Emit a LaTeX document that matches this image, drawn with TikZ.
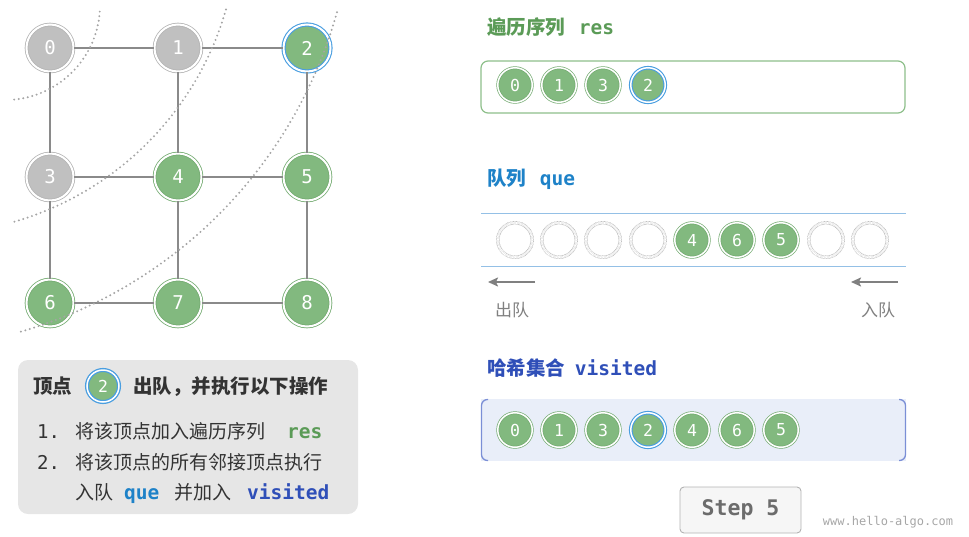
\documentclass[tikz,border=0pt]{standalone}
\usepackage{fontspec}
\setmainfont{Noto Sans CJK SC}
\setmonofont{DejaVu Sans Mono}
\newfontfamily\numf{DejaVu Sans Mono}
\usetikzlibrary{arrows.meta}
\definecolor{vgreen}{HTML}{82B97F}
\definecolor{gring}{HTML}{74AB71}
\definecolor{vgray}{HTML}{C0C0C0}
\definecolor{grayring}{HTML}{B4B4B4}
\definecolor{bring}{HTML}{4A9EE0}
\definecolor{edgecol}{HTML}{8A8A8A}
\definecolor{arccol}{HTML}{A5A5A5}
\definecolor{boxgray}{HTML}{E6E6E6}
\definecolor{txt}{HTML}{333333}
\definecolor{resgreen}{HTML}{5B9B57}
\definecolor{queblue}{HTML}{1E82C8}
\definecolor{visblue}{HTML}{2F4FB8}
\definecolor{resborder}{HTML}{8DBF8A}
\definecolor{qline}{HTML}{94C0E6}
\definecolor{visfill}{HTML}{E9EEF9}
\definecolor{visbr}{HTML}{7B8FD6}
\definecolor{lblgray}{HTML}{808080}
\begin{document}
\begin{tikzpicture}[x=1pt,y=-1pt,
  gnode/.style={circle, inner sep=0pt, minimum size=47pt, fill=vgreen, draw=gring,
    double=white, double distance=2pt, line width=0.8pt, text=white,
    font=\numf\fontsize{19}{19}\selectfont},
  ggray/.style={gnode, fill=vgray, draw=grayring},
  gblue/.style={gnode, draw=bring, line width=1.1pt},
  snode/.style={circle, inner sep=0pt, minimum size=34.5pt, fill=vgreen, draw=gring,
    double=white, double distance=1.5pt, line width=0.7pt, text=white,
    font=\numf\fontsize{16.5}{16.5}\selectfont},
  sblue/.style={snode, draw=bring, line width=1.1pt},
  enode/.style={circle, inner sep=0pt, minimum size=34.5pt, fill=white, draw=gray!55,
    dash pattern=on 0.8pt off 0.6pt, double=white, double distance=2.2pt, line width=0.6pt},
  edge/.style={draw=edgecol, line width=2.4pt},
  layer/.style={draw=arccol, line width=2.2pt, dash pattern=on 0pt off 4.6pt, line cap=round},
  cjk/.style={font=\fontsize{19}{23}\selectfont, text=txt, inner sep=0pt, anchor=base west},
  cjkb/.style={font=\bfseries\fontsize{19.5}{23}\selectfont, text=txt, inner sep=0pt, anchor=base west},
  mono/.style={font=\ttfamily\fontsize{19}{23}\selectfont, text=txt, inner sep=0pt, anchor=base west},
  monob/.style={font=\ttfamily\bfseries\fontsize{19.5}{23}\selectfont, inner sep=0pt, anchor=base west},
  qarrow/.style={draw=lblgray, line width=1.8pt, -{Stealth[length=10pt,width=9pt,inset=2pt]}}
]
\useasboundingbox (0,0) rectangle (969,536);

% ---------- graph ----------
\node[ggray] (n0) at (50,48) {0};
\node[ggray] (n1) at (178,48) {1};
\node[gblue] (n2) at (307,48) {2};
\node[ggray] (n3) at (50,177) {3};
\node[gnode] (n4) at (178,177) {4};
\node[gnode] (n5) at (307,177) {5};
\node[gnode] (n6) at (50,303) {6};
\node[gnode] (n7) at (178,303) {7};
\node[gnode] (n8) at (307,303) {8};
\draw[edge] (n0) -- (n1);
\draw[edge] (n1) -- (n2);
\draw[edge] (n3) -- (n4);
\draw[edge] (n4) -- (n5);
\draw[edge] (n6) -- (n7);
\draw[edge] (n7) -- (n8);
\draw[edge] (n0) -- (n3);
\draw[edge] (n3) -- (n6);
\draw[edge] (n1) -- (n4);
\draw[edge] (n4) -- (n7);
\draw[edge] (n2) -- (n5);
\draw[edge] (n5) -- (n8);
% layer boundaries
\draw[layer] (5,5) ++(4:95) arc[start angle=4, end angle=86, radius=95];
\draw[layer] (-72,-76) ++(16:310) arc[start angle=16, end angle=74, radius=310];
\draw[layer] (-108,-112) ++(15.6:462) arc[start angle=15.6, end angle=74.3, radius=462];

% ---------- left info box ----------
\fill[boxgray, rounded corners=10pt] (18,360) rectangle (358,514);
\node[cjkb] (h1) at (33,393) {顶点};
\node[sblue, minimum size=32pt, line width=1.3pt] (hc) at (103,386) {2};
\node[cjkb] (h2) at (133,393) {出队，并执行以下操作};
\node[mono] (l1n) at (37,438) {1.};
\node[cjk] (l1t) at (75,438) {将该顶点加入遍历序列};
\node[monob, text=resgreen] (l1r) at (287,438) {res};
\node[mono] (l2n) at (37,469) {2.};
\node[cjk] (l2t) at (75,469) {将该顶点的所有邻接顶点执行};
\node[cjk] (l3a) at (75,499) {入队};
\node[monob, text=queblue] (l3b) at (124,499) {que};
\node[cjk] (l3c) at (174,499) {并加入};
\node[monob, text=visblue] (l3d) at (247,499) {visited};

% ---------- res ----------
\node[font=\bfseries\fontsize{19.5}{23}\selectfont, text=resgreen, anchor=base west, inner sep=0pt] (tres) at (487,34) {遍历序列\hspace{0.7em}{\ttfamily res}};
\draw[resborder, line width=1.2pt, rounded corners=7pt] (481,61) rectangle (905,113);
\node[snode] (r0) at (515,85) {0};
\node[snode] (r1) at (559,85) {1};
\node[snode] (r2) at (603,85) {3};
\node[sblue] (r3) at (648,85) {2};

% ---------- queue ----------
\node[font=\bfseries\fontsize{19.5}{23}\selectfont, text=queblue, anchor=base west, inner sep=0pt] (tque) at (487,185) {队列\hspace{0.7em}{\ttfamily que}};
\draw[qline, line width=1.1pt] (481,213.5) -- (906,213.5);
\draw[qline, line width=1.1pt] (481,266.5) -- (906,266.5);
\node[enode] (q0) at (515,240) {};
\node[enode] (q1) at (559,240) {};
\node[enode] (q2) at (603,240) {};
\node[enode] (q3) at (648,240) {};
\node[snode] (q4) at (692,240) {4};
\node[snode] (q5) at (737,240) {6};
\node[snode] (q6) at (781,240) {5};
\node[enode] (q7) at (826,240) {};
\node[enode] (q8) at (870,240) {};
\coordinate (a1s) at (535,282);
\coordinate (a1e) at (488,282);
\coordinate (a2s) at (898,282);
\coordinate (a2e) at (851,282);
\draw[qarrow] (a1s) -- (a1e);
\draw[qarrow] (a2s) -- (a2e);
\node[font=\fontsize{17}{20}\selectfont, text=lblgray, inner sep=0pt] (lout) at (512,310) {出队};
\node[font=\fontsize{17}{20}\selectfont, text=lblgray, inner sep=0pt] (lin) at (878,310) {入队};

% ---------- visited ----------
\node[font=\bfseries\fontsize{19.5}{23}\selectfont, text=visblue, anchor=base west, inner sep=0pt] (tvis) at (487,375) {哈希集合\hspace{0.5em}{\ttfamily visited}};
\fill[visfill] (481,399) rectangle (906,461);
\draw[visbr, line width=1.3pt, rounded corners=6pt] (488,399.5) -- (481.5,399.5) -- (481.5,460.5) -- (488,460.5);
\draw[visbr, line width=1.3pt, rounded corners=6pt] (899,399.5) -- (905.5,399.5) -- (905.5,460.5) -- (899,460.5);
\node[snode] (v0) at (515,430) {0};
\node[snode] (v1) at (559,430) {1};
\node[snode] (v2) at (603,430) {3};
\node[sblue] (v3) at (648,430) {2};
\node[snode] (v4) at (692,430) {4};
\node[snode] (v5) at (737,430) {6};
\node[snode] (v6) at (781,430) {5};

% ---------- step button ----------
\node[draw=gray!60, fill=gray!7, rounded corners=4pt, line width=0.9pt,
  minimum width=121pt, minimum height=46pt, inner sep=0pt,
  font=\ttfamily\bfseries\fontsize{21.5}{24}\selectfont, text=gray!85!black] (step) at (740.5,510) {Step 5};
\node[font=\ttfamily\fontsize{12}{14}\selectfont, text=gray!70, inner sep=0pt] (wm) at (888,522) {www.hello-algo.com};
\end{tikzpicture}
\end{document}
